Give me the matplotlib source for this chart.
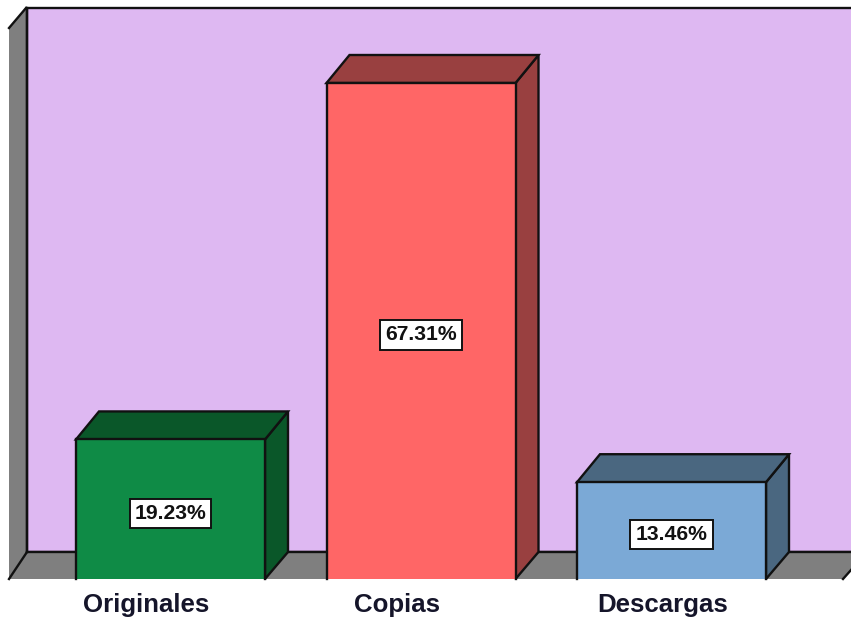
import matplotlib
matplotlib.use("Agg")
import matplotlib.pyplot as plt
from matplotlib.patches import Polygon

categories = ["Originales", "Copias", "Descargas"]
values = [19.23, 67.31, 13.46]
labels = ["19.23%", "67.31%", "13.46%"]
front_colors = ["#0F8B46", "#FF6666", "#7BA9D6"]
dark_colors = ["#0A5729", "#994040", "#4A6780"]

W, H = 851, 625
PX_X = 250.5            # pixels per category
PX_Y = 499 / 67.31      # pixels per percent
X0, Y0 = 170.5, 582     # pixel position of category 0, value 0
DX = 23 / PX_X          # depth offset
DY = 28 / PX_Y
BAR_W = 189 / PX_X
CAT_SHIFT = (-24, -24, -8.5)  # category label offset from bar centre, pixels
EDGE = "#111111"
LW = 1.7

plt.rcParams["font.family"] = ["Liberation Sans", "DejaVu Sans"]
fig = plt.figure(figsize=(W / 100, H / 100), dpi=100, facecolor="white")
ax = fig.add_axes([0, 0, 1, 1])
ax.set_xlim(-X0 / PX_X, (W - X0) / PX_X)
ax.set_ylim((Y0 - H) / PX_Y, Y0 / PX_Y)
ax.axis("off")


def fx(px):
    return (px - X0) / PX_X


def fy(py):
    return (Y0 - py) / PX_Y


def poly(points, fc, z, lw=LW, ec=EDGE):
    ax.add_patch(Polygon(points, closed=True, facecolor=fc, edgecolor=ec,
                         linewidth=lw, zorder=z, joinstyle="miter"))


BASE = fy(579)
FLOOR_BACK = fy(552)

# background panels
ax.add_patch(Polygon([(fx(9), fy(579)), (fx(9), fy(28)), (fx(27), fy(6)), (fx(27), fy(579))],
                     closed=True, facecolor="#7F7F7F", edgecolor="none", zorder=1))
poly([(fx(27), fy(8)), (fx(870), fy(8)), (fx(870), fy(552)), (fx(27), fy(552))], "#DEB8F2", 2)
ax.add_patch(Polygon([(fx(9), fy(579)), (fx(27), fy(552)), (fx(867), fy(552)), (fx(843), fy(579))],
                     closed=True, facecolor="#7F7F7F", edgecolor="none", zorder=3))
for xs, ys in [((9, 27), (579, 552)), ((27, 870), (552, 552)), ((843, 867), (579, 552)),
               ((9, 26), (28, 8)), ((27, 27), (8, 552))]:
    ax.plot([fx(x) for x in xs], [fy(y) for y in ys], color=EDGE, lw=LW, zorder=4)

# 3D bars
for i, (cat, v, lab, fc, dc, shift) in enumerate(zip(categories, values, labels, front_colors,
                                                     dark_colors, CAT_SHIFT)):
    x0, x1 = i - BAR_W / 2, i + BAR_W / 2
    poly([(x1, BASE), (x1 + DX, FLOOR_BACK), (x1 + DX, v + DY), (x1, v)], dc, 5)
    poly([(x0, v), (x0 + DX, v + DY), (x1 + DX, v + DY), (x1, v)], dc, 5)
    ax.fill([x0, x1, x1, x0], [BASE, BASE, v, v], color=fc, lw=0, zorder=6)
    ax.plot([x0, x0, x1, x1], [BASE, v, v, BASE], color=EDGE, lw=LW, zorder=7,
            solid_joinstyle="miter")
    ax.text(i, v / 2 - 2.5 / PX_Y, lab, ha="center", va="center", fontsize=15.2,
            fontweight="bold", color="#111111", zorder=9,
            bbox=dict(boxstyle="square,pad=0.24", facecolor="white", edgecolor=EDGE, linewidth=1.4))
    ax.text(i + shift / PX_X, fy(605), cat, ha="center", va="center", fontsize=18.6,
            fontweight="bold", color="#15152A", zorder=9)

fig.savefig("out.png", dpi=100, facecolor="white")
